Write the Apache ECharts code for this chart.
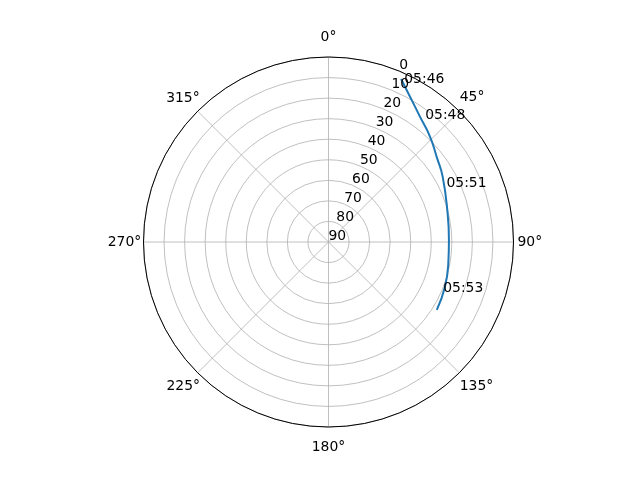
<!DOCTYPE html>
<html>
<head>
<meta charset="utf-8">
<script src="https://cdn.jsdelivr.net/npm/echarts@6/dist/echarts.min.js"></script>
<style>
html,body{margin:0;padding:0;background:#fff;}
#c{width:640px;height:480px;}
</style>
</head>
<body>
<div id="c"></div>
<script>
// Satellite pass track: azimuth (deg, clockwise from north) and elevation (deg)
var trackAz = [24.0, 29.3, 36.1, 43.9, 51.7, 60.2, 76.5, 89.0, 100.1, 111.0, 122.1];
var trackEl = [3.2, 8.95, 14.5, 18.8, 23.0, 26.0, 30.4, 31.4, 30.8, 29.3, 27.8];

// Time annotations along the track
var timeLabels = ['05:46', '05:48', '05:51', '05:53'];
var timeAz = [25.4, 38.1, 64.9, 113.1];
var timeEl = [4.0, 13.7, 26.6, 29.3];

// Axis ticks
var angleTicks = [0, 45, 90, 135, 180, 225, 270, 315];
var radialTicks = [0, 10, 20, 30, 40, 50, 60, 70, 80, 90];
var radialLabelAngle = 22.5;

var FONT = 'DejaVu Sans';
var FS = 13.9;

var chart = echarts.init(document.getElementById('c'), null, {renderer: 'canvas'});

var trackData = trackAz.map(function (a, i) { return [trackEl[i], a]; });
var timeData = timeAz.map(function (a, i) { return {value: [timeEl[i], a], name: timeLabels[i]}; });
var rlabData = radialTicks.map(function (r) { return {value: [r, radialLabelAngle], name: String(r)}; });

var labelStyle = {
  show: true, position: [0, 0], align: 'left', verticalAlign: 'bottom',
  formatter: '{b}', color: '#000000', opacity: 1, fontFamily: FONT, fontSize: FS,
  textBorderWidth: 0, textBorderColor: 'transparent', textShadowBlur: 0
};

// per-direction padding so each angle label is centred like the reference
function tok(pad) { return {padding: pad, fontFamily: FONT, fontSize: FS, color: '#000'}; }
var angleRich = {
  a0: tok([0, 0, 19, 0]),
  a45: tok([0, 0, 11.5, 4.7]),
  a90: tok([0, 0, 0, 10]),
  a135: tok([11, 0, 0, 4.7]),
  a180: tok([19, 0, 0, 0]),
  a225: tok([11, 2, 0, 0]),
  a270: tok([0, 8.3, 0, 0]),
  a315: tok([0, 2.3, 10.5, 0])
};

chart.setOption({
  animation: false,
  backgroundColor: '#ffffff',
  polar: {center: [328.5, 242], radius: 185},
  angleAxis: {
    type: 'value',
    min: 0, max: 360, interval: 45,
    startAngle: 90, clockwise: true,
    axisLine: {show: true, lineStyle: {color: '#000', width: 1}},
    axisTick: {show: false},
    axisLabel: {
      margin: -6,
      color: '#000',
      fontFamily: FONT, fontSize: FS,
      formatter: function (v) {
        return angleTicks.indexOf(v) < 0 ? '' : '{a' + v + '|' + v + '°}';
      },
      rich: angleRich
    },
    splitLine: {show: true, lineStyle: {color: '#b0b0b0', width: 0.8}},
    z: 1
  },
  radiusAxis: {
    type: 'value',
    min: 0, max: 90, interval: 10,
    inverse: true,
    axisLine: {show: false},
    axisTick: {show: false},
    axisLabel: {show: false},
    splitLine: {show: true, lineStyle: {color: '#b0b0b0', width: 0.8}},
    z: 0
  },
  series: [
    {
      type: 'line',
      coordinateSystem: 'polar',
      data: trackData,
      showSymbol: false,
      symbol: 'none',
      smooth: true,
      lineStyle: {color: '#1f77b4', width: 2},
      z: 5
    },
    {
      type: 'scatter',
      coordinateSystem: 'polar',
      data: rlabData,
      symbolSize: 0.1,
      itemStyle: {color: '#000000', opacity: 1},
      clip: false,
      silent: true,
      label: Object.assign({}, labelStyle, {offset: [0, 1]}),
      z: 6
    },
    {
      type: 'scatter',
      coordinateSystem: 'polar',
      data: timeData,
      symbolSize: 0.1,
      itemStyle: {color: '#000000', opacity: 1},
      clip: false,
      silent: true,
      label: Object.assign({}, labelStyle, {offset: [0, 4]}),
      z: 7
    }
  ]
});
</script>
</body>
</html>
